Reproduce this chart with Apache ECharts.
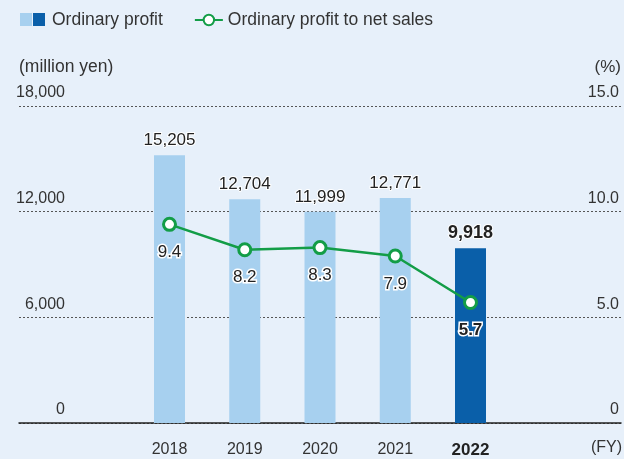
<!DOCTYPE html>
<html>
<head>
<meta charset="utf-8">
<script src="https://cdn.jsdelivr.net/npm/echarts@6/dist/echarts.min.js"></script>
<style>
  html, body { margin: 0; padding: 0; background: #e7f0fa; }
  #chart { width: 624px; height: 459px; }
</style>
</head>
<body>
<div id="chart"></div>
<script>
// padded categories so bars sit on ticks like the original
const years = ['', '', '2018', '2019', '2020', '2021', '2022', '', ''];
const profit = ['-', '-', 15205, 12704, 11999, 12771, 9918, '-', '-'];
const ratio = ['-', '-', 9.4, 8.2, 8.3, 7.9, 5.7, '-', '-'];
const leftTicks = [0, 18000, 6000];   // min, max, interval
const rightTicks = [0, 15, 5];

const font = 'Liberation Sans, Arial, sans-serif';
const light = '#a7d0ef';
const dark = '#0a5fa9';
const green = '#139d47';

let chart = echarts.init(document.getElementById('chart'));
chart.setOption({
  backgroundColor: '#e7f0fa',
  textStyle: { fontFamily: font },
  legend: {
    left: 14,
    top: 6,
    itemGap: 31,
    itemWidth: 28,
    itemHeight: 13,
    textStyle: { fontSize: 17.5, color: '#333', fontFamily: font },
    data: [
      // swatch drawn below as two squares (light + dark)
      { name: 'Ordinary profit', icon: 'rect', itemStyle: { color: 'transparent' } },
      { name: 'Ordinary profit to net sales' },
    ],
  },
  graphic: [
    { type: 'rect', left: 20, top: 13, z: 100, shape: { width: 12, height: 13 }, style: { fill: light } },
    { type: 'rect', left: 33, top: 13, z: 100, shape: { width: 12, height: 13 }, style: { fill: dark } },
    { type: 'text', right: 2, top: 440, style: { text: '(FY)', fontSize: 16, fill: '#333', fontFamily: font } },
  ],
  grid: { left: 19, right: 0, top: 106, bottom: 36 },
  xAxis: {
    type: 'category',
    data: years,
    boundaryGap: false,
    axisLine: { lineStyle: { color: '#222', width: 1.5 } },
    axisTick: { show: false },
    axisLabel: {
      interval: 0,
      margin: 19,
      fontSize: 16,
      color: '#333',
      formatter: (v) => (v === '2022' ? '{b|' + v + '}' : v),
      rich: { b: { fontWeight: 'bold', fontSize: 17, color: '#222' } },
    },
  },
  yAxis: [
    {
      type: 'value',
      min: leftTicks[0],
      max: leftTicks[1],
      interval: leftTicks[2],
      name: '(million yen)',
      nameLocation: 'end',
      nameGap: 30,
      nameTextStyle: { align: 'left', fontSize: 17.5, color: '#333', fontFamily: font },
      axisLine: { show: false },
      axisTick: { show: false },
      axisLabel: {
        inside: true,
        align: 'right',
        verticalAlign: 'bottom',
        margin: 46,
        padding: [0, 0, 5, 0],
        fontSize: 16,
        color: '#333',
        formatter: (v) => v.toLocaleString('en-US'),
      },
      splitLine: { lineStyle: { color: '#555', type: [2, 2], width: 1 } },
    },
    {
      type: 'value',
      min: rightTicks[0],
      max: rightTicks[1],
      interval: rightTicks[2],
      name: '(%)',
      nameLocation: 'end',
      nameGap: 30,
      nameTextStyle: { align: 'right', fontSize: 17, color: '#333', fontFamily: font },
      axisLine: { show: false },
      axisTick: { show: false },
      axisLabel: {
        inside: true,
        align: 'right',
        verticalAlign: 'bottom',
        margin: 2,
        padding: [0, 0, 5, 0],
        fontSize: 16,
        color: '#333',
        formatter: (v) => (v === 0 ? '0' : v.toFixed(1)),
      },
      splitLine: { show: false },
    },
  ],
  series: [
    {
      name: 'Ordinary profit',
      type: 'bar',
      barWidth: 31,
      data: profit.map((v, i) => (years[i] === '2022' ? { value: v, itemStyle: { color: dark } } : v)),
      itemStyle: { color: light },
      label: {
        show: true,
        position: 'top',
        distance: 6,
        fontSize: 17,
        color: '#222',
        textBorderColor: '#fff',
        textBorderWidth: 2,
        formatter: (p) => {
          let s = p.value.toLocaleString('en-US');
          return p.name === '2022' ? '{b|' + s + '}' : s;
        },
        rich: { b: { fontWeight: 'bold', fontSize: 18, color: '#222' } },
      },
      z: 1,
    },
    {
      name: 'Ordinary profit to net sales',
      type: 'line',
      yAxisIndex: 1,
      data: ratio,
      symbol: 'circle',
      symbolSize: 12,
      itemStyle: { color: '#fff', borderColor: green, borderWidth: 3 },
      lineStyle: { color: green, width: 2.5 },
      label: {
        show: true,
        position: 'bottom',
        distance: 12,
        fontSize: 17,
        color: '#222',
        textBorderColor: '#fff',
        textBorderWidth: 3,
        formatter: (p) => (p.name === '2022' ? '{b|' + p.value.toFixed(1) + '}' : p.value.toFixed(1)),
        rich: { b: { fontWeight: 'bold', fontSize: 17, color: '#222' } },
      },
      z: 3,
    },
  ],
});
</script>
</body>
</html>
